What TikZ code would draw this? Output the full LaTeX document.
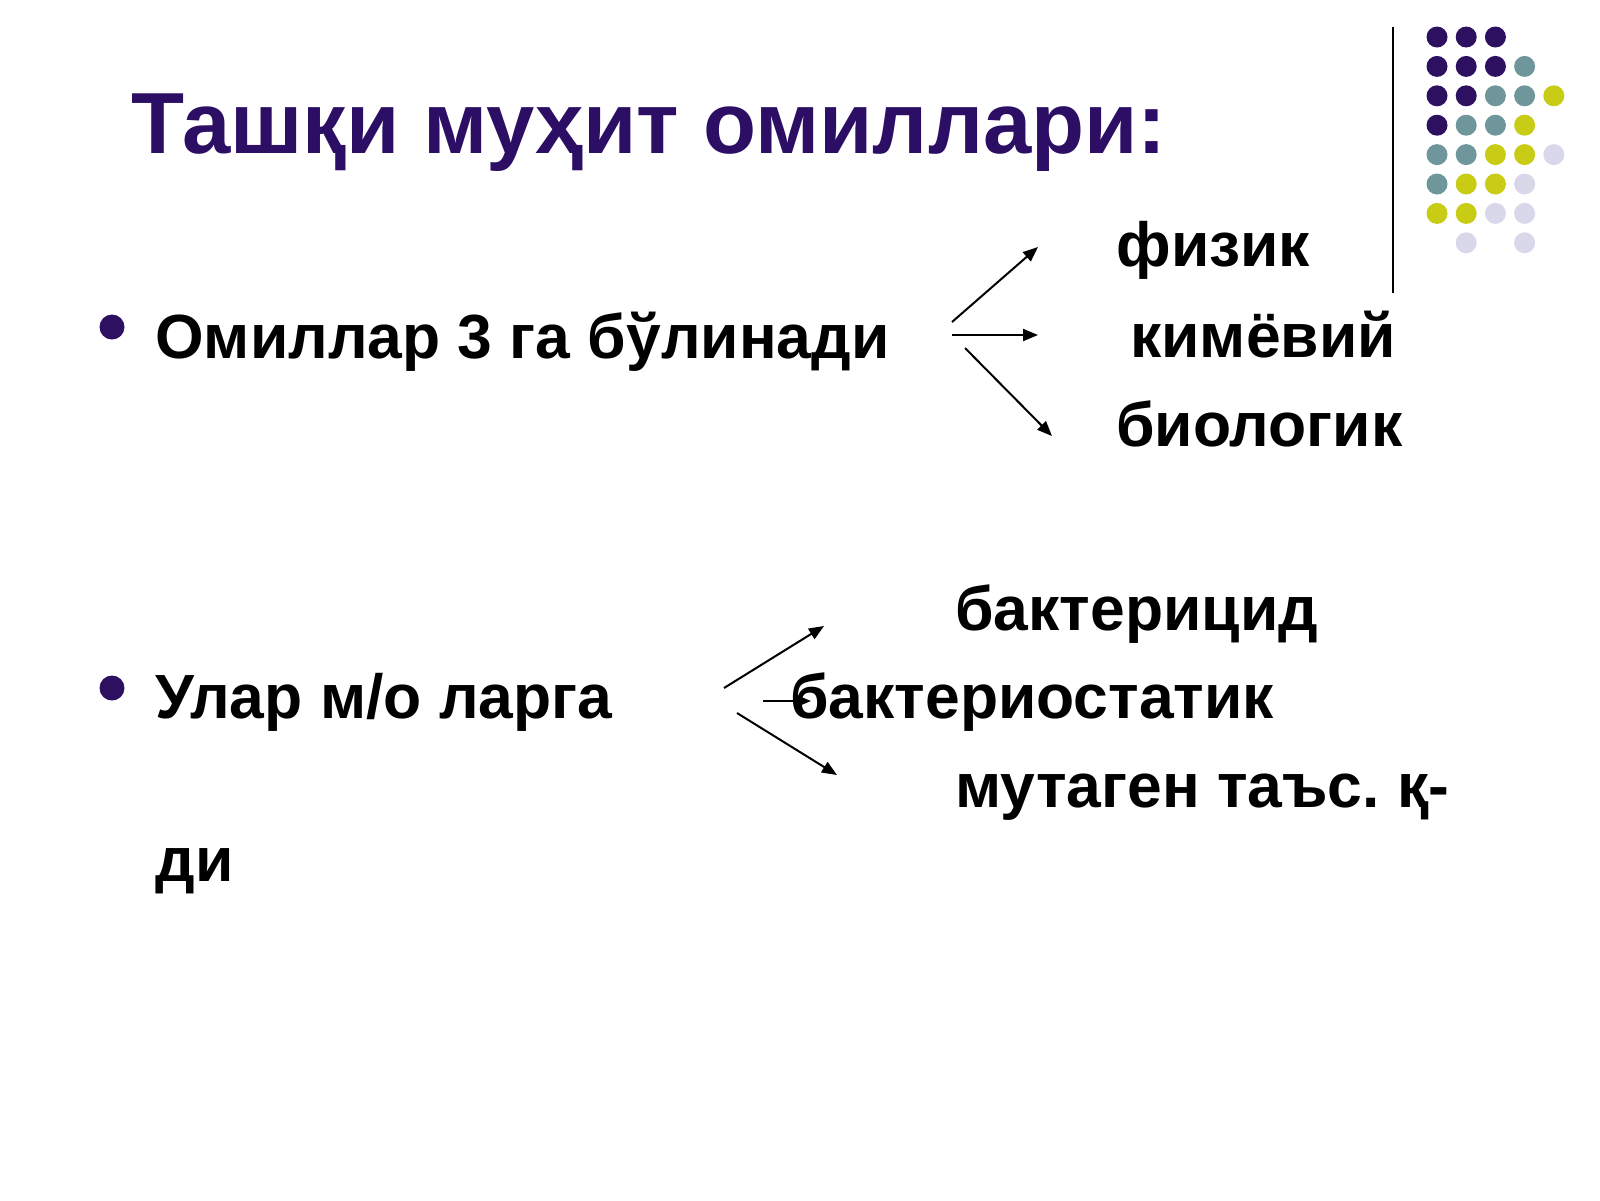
\documentclass[tikz,border=0pt]{standalone}
\usepackage{fontspec}
\setmainfont{Liberation Sans}
\usetikzlibrary{arrows.meta}
\frenchspacing
\definecolor{ttlpurple}{RGB}{44,14,100}
\definecolor{dpurple}{RGB}{46,16,96}
\definecolor{dteal}{RGB}{110,150,155}
\definecolor{dyellow}{RGB}{200,204,20}
\definecolor{dlav}{RGB}{216,216,234}
\tikzset{
  ttl/.style={anchor=base west,inner sep=0pt,font=\fontsize{43.4pt}{50pt}\selectfont\bfseries,text=ttlpurple},
  body/.style={anchor=base west,inner sep=0pt,font=\fontsize{31.2pt}{38pt}\selectfont\bfseries,text=black},
  bul/.style={fill=dpurple,draw=none},
  arr/.style={line width=1pt,-{Triangle[length=7.5pt,width=6pt]}},
  dotP/.style={fill=dpurple,draw=none},
  dotT/.style={fill=dteal,draw=none},
  dotY/.style={fill=dyellow,draw=none},
  dotL/.style={fill=dlav,draw=none}
}
\begin{document}
\begin{tikzpicture}[x=0.5pt,y=-0.5pt]
\useasboundingbox[fill=white] (0,0) rectangle (1600,1200);
% title
\node[ttl] (title) at (131,153) {Ташқи муҳит омиллари:};
% vertical rule
\coordinate (vt) at (1393,27);
\coordinate (vb) at (1393,293);
\draw[line width=1pt] (vt) -- (vb);
% dot grid
\foreach \c/\r/\s in {0/0/P,1/0/P,2/0/P,
  0/1/P,1/1/P,2/1/P,3/1/T,
  0/2/P,1/2/P,2/2/T,3/2/T,4/2/Y,
  0/3/P,1/3/T,2/3/T,3/3/Y,
  0/4/T,1/4/T,2/4/Y,3/4/Y,4/4/L,
  0/5/T,1/5/Y,2/5/Y,3/5/L,
  0/6/Y,1/6/Y,2/6/L,3/6/L,
  1/7/L,3/7/L}
  \fill[dot\s] ({1437+29.2*\c},{37+29.4*\r}) circle (10.5);
% bullets
\fill[bul] (112,327) circle (12.5);
\fill[bul] (112,688) circle (12.5);
% section 1
\node[body] (om) at (155,358) {Омиллар 3 га бўлинади};
\node[body] (fiz) at (1116,266) {физик};
\node[body] (kim) at (1130,357) {кимёвий};
\node[body] (bio) at (1116,446) {биологик};
\coordinate (a1s) at (952,322);
\coordinate (a1e) at (1038,247);
\coordinate (a2s) at (952,335);
\coordinate (a2e) at (1038,335);
\coordinate (a3s) at (965,348);
\coordinate (a3e) at (1052,436);
\draw[arr] (a1s) -- (a1e);
\draw[arr] (a2s) -- (a2e);
\draw[arr] (a3s) -- (a3e);
% section 2
\node[body] (ular) at (155,718) {Улар м/о ларга};
\node[body] (di) at (155,881) {ди};
\node[body] (bakc) at (955,630) {бактерицид};
\node[body] (baks) at (790,718) {бактериостатик};
\node[body] (mut) at (955,807) {мутаген таъс. қ-};
\coordinate (b1s) at (724,688);
\coordinate (b1e) at (824,626);
\coordinate (b2s) at (763,701);
\coordinate (b2e) at (811,701);
\coordinate (b3s) at (737,713);
\coordinate (b3e) at (837,775);
\draw[arr] (b1s) -- (b1e);
\draw[arr] (b2s) -- (b2e);
\draw[arr] (b3s) -- (b3e);
\end{tikzpicture}
\end{document}
